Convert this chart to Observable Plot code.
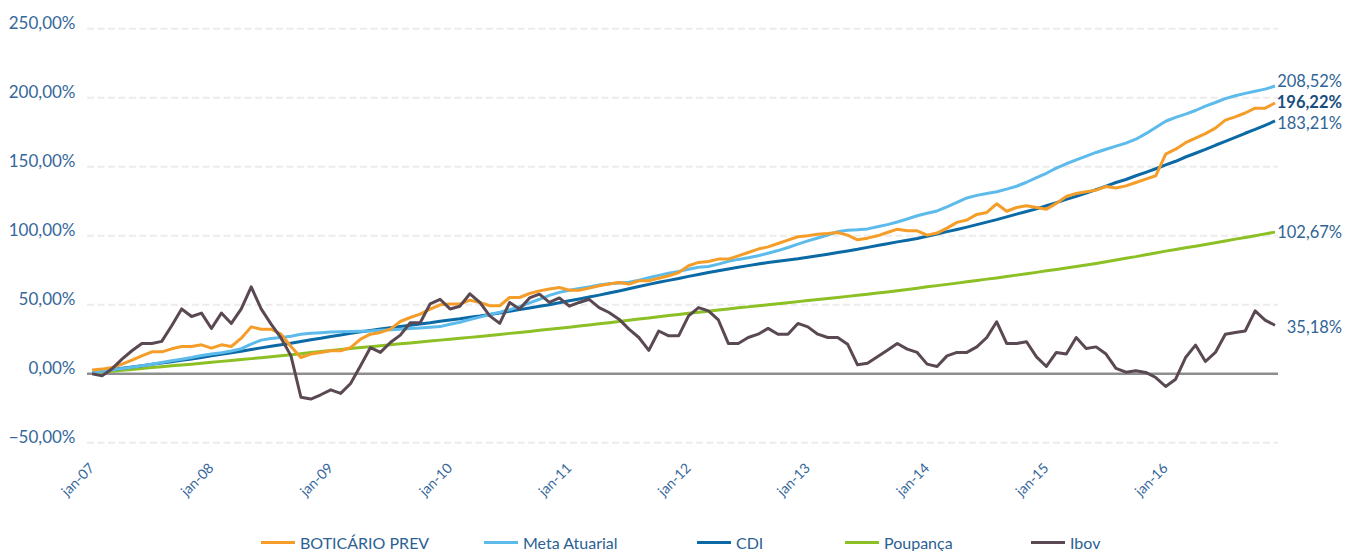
<!DOCTYPE html>
<html>
<head>
<meta charset="utf-8">
<script src="https://cdn.jsdelivr.net/npm/d3@7"></script>
<script src="https://cdn.jsdelivr.net/npm/@observablehq/plot@0.6"></script>
<style>
  body { margin: 0; background: #fff; }
  #wrap { position: relative; width: 1346px; height: 551px; font-family: Lato, "Open Sans", sans-serif; }
  #legend { position: absolute; left: 0; top: 520px; width: 1346px; height: 31px; }
  .item { position: absolute; top: 11px; height: 22px; display: flex; align-items: center; font-size: 16px; font-weight: 400; color: #2c5f92; white-space: nowrap; }
  .sw { display: inline-block; width: 34px; height: 3px; margin-right: 5px; }
</style>
</head>
<body>
<div id="wrap"><div id="chart"></div><div id="legend"></div></div>
<script>
// ---- data ----
const tickLabels = ["jan-07","jan-08","jan-09","jan-10","jan-11","jan-12","jan-13","jan-14","jan-15","jan-16"];
const yTicks = [-50, 0, 50, 100, 150, 200, 250];

const boticario = [2.7,3.4,4.6,7.0,9.9,13.0,15.9,15.9,18.1,19.8,19.8,21.0,
  18.6,21.0,19.8,25.8,34.0,32.3,32.3,28.7,19.8,11.8,14.3,15.5,
  16.7,16.7,19.0,25.1,28.7,30.0,32.4,37.9,40.8,43.2,46.9,50.0,
  50.5,50.5,53.4,51.7,49.3,49.3,55.3,55.3,58.2,60.1,61.4,62.5,
  60.6,60.6,62.1,63.8,65.0,66.2,65.0,67.4,67.4,69.3,71.0,73.4,
  78.3,80.7,81.4,83.1,83.1,85.5,87.9,90.4,92.0,94.4,96.9,99.3,
  100.0,101.2,101.7,102.4,100.5,97.1,98.3,100.0,102.4,104.8,103.6,103.6,
  100.5,102.0,105.6,109.7,111.4,115.5,116.9,123.2,117.8,120.5,121.7,120.5,
  119.3,123.5,128.5,130.7,131.9,133.1,135.7,134.6,136.2,138.6,141.1,143.5,
  159.2,162.8,167.5,170.8,174.0,178.0,183.8,186.2,189.0,192.5,192.5,196.22];

const metaAtuarial = [1.0,1.9,2.9,3.8,4.8,5.8,6.9,8.2,9.5,10.6,11.8,13.2,
  14.3,15.3,16.5,18.2,21.5,24.4,25.6,26.3,27.2,28.6,29.4,29.8,
  30.3,30.5,30.7,30.9,31.1,31.6,31.9,32.3,32.8,33.2,33.7,34.2,
  35.9,37.4,39.3,41.1,43.0,44.6,46.5,48.6,51.4,54.0,56.8,59.0,
  60.5,61.8,63.0,64.3,65.2,65.8,66.3,67.8,69.6,71.3,72.8,74.2,
  75.8,77.2,77.7,79.5,81.5,82.9,84.1,85.6,87.4,89.3,91.5,94.0,
  96.3,98.4,100.6,102.9,104.0,104.4,105.0,106.5,108.1,110.0,112.2,114.5,
  116.3,118.0,120.9,124.2,127.4,129.3,130.6,131.9,133.8,135.9,138.8,142.2,
  145.3,149.0,152.2,155.0,157.7,160.4,162.7,165.0,167.2,170.0,174.0,178.5,
  183.0,185.8,188.2,190.8,194.0,196.6,199.4,201.5,203.2,204.8,206.3,208.52];

const cdi = [1.1,2.0,3.1,4.0,5.0,5.9,6.9,7.9,8.8,9.8,10.8,11.8,
  13.0,14.1,15.3,16.4,17.6,18.8,19.9,21.1,22.2,23.4,24.6,25.7,
  27.0,28.1,29.3,30.4,31.4,32.4,33.4,34.3,35.2,36.1,37.0,38.1,
  39.0,39.9,41.0,41.9,43.0,44.1,45.3,46.5,47.7,48.9,50.1,51.5,
  52.9,54.2,55.6,57.0,58.5,60.0,61.6,63.3,64.8,66.3,67.7,69.1,
  70.6,72.0,73.4,74.7,76.0,77.2,78.4,79.6,80.6,81.6,82.5,83.3,
  84.5,85.6,86.7,87.9,89.0,90.2,91.6,92.9,94.2,95.6,96.8,98.1,
  99.7,101.3,103.0,104.6,106.3,108.1,109.9,111.7,113.7,115.7,117.6,119.5,
  121.8,124.0,126.4,128.6,130.9,133.5,136.0,138.6,140.8,143.5,146.0,148.6,
  151.4,154.0,157.1,159.8,162.6,165.6,168.4,171.3,174.3,177.1,180.1,183.21];

const poupanca = [0.7,1.3,1.9,2.6,3.2,3.8,4.5,5.1,5.8,6.4,7.0,7.7,
  8.3,9.0,9.7,10.4,11.0,11.7,12.4,13.1,13.8,14.6,15.4,16.2,
  16.9,17.6,18.3,19.0,19.6,20.3,21.0,21.7,22.3,23.0,23.7,24.4,
  25.1,25.7,26.4,27.1,27.8,28.5,29.3,30.0,30.7,31.5,32.2,33.0,
  33.8,34.6,35.4,36.2,37.0,37.9,38.8,39.7,40.5,41.4,42.2,43.0,
  43.8,44.6,45.4,46.2,47.0,47.8,48.5,49.3,50.0,50.8,51.5,52.3,
  53.1,53.8,54.6,55.3,56.1,56.9,57.7,58.5,59.3,60.2,61.1,62.0,
  63.0,63.9,64.8,65.7,66.7,67.6,68.6,69.5,70.5,71.5,72.5,73.5,
  74.6,75.6,76.7,77.8,78.9,80.0,81.2,82.4,83.7,84.9,86.3,87.6,
  88.9,90.1,91.3,92.5,93.7,95.0,96.3,97.6,98.8,100.1,101.4,102.67];

const ibov = [0,-1.5,3.6,10.6,16.7,22,22,23.5,34.8,47,41.5,44,
  32.8,44,36.5,47,63,47,36,26,13,-17,-18.3,-15.2,
  -11.6,-14.2,-7,5.8,19,15.5,22.7,28,37,37,50.7,54,
  47,49,58,51.7,42,36.5,51.7,47,55,57.7,51.7,55,
  49,51.7,54,48,44.4,39.6,32.4,26.3,17,31,27.5,27.5,
  42,48,45.6,39,22,22,26.3,28.7,32.9,28.7,28.7,36.5,
  34,28.7,26.3,26.3,21.5,6.5,7.7,12.3,17,22,17.9,15.5,
  7,5.3,13,15.5,15.5,19.5,26.3,37.7,22,22,23.2,12.3,
  5.3,15.5,14.3,26.3,18.4,19.5,14.3,4,1.2,2.2,1,-2.7,
  -9.2,-3.9,11.8,20.8,8.9,15.5,28.7,30,31,45.6,38.9,35.18];

const seriesNames = ["BOTICÁRIO PREV", "Meta Atuarial", "CDI", "Poupança", "Ibov"];
const endLabels = ["196,22%", "208,52%", "183,21%", "102,67%", "35,18%"];

// ---- styles ----
const colors = {"BOTICÁRIO PREV": "#f59d29", "Meta Atuarial": "#5cbbea", "CDI": "#0b6aa5", "Poupança": "#8cc024", "Ibov": "#5a4853"};
const valuesByName = {"BOTICÁRIO PREV": boticario, "Meta Atuarial": metaAtuarial, "CDI": cdi, "Poupança": poupanca, "Ibov": ibov};
const labelDy = {"BOTICÁRIO PREV": 0, "Meta Atuarial": -4.5, "CDI": 2.5, "Poupança": 0.5, "Ibov": 2};
const drawOrder = ["Poupança", "CDI", "Meta Atuarial", "BOTICÁRIO PREV", "Ibov"];
const axisColor = "#36679b";

const rowsFor = name => valuesByName[name].map((v, i) => ({i, v, name}));
const fmtPct = d => d3.format(".2f")(d).replace(".", ",") + "%";

const lineMarks = drawOrder.map(name =>
  Plot.line(rowsFor(name), {x: "i", y: "v", stroke: colors[name], strokeWidth: 3, strokeLinejoin: "round", strokeLinecap: "butt"}));

const labelMarks = seriesNames.map((name, k) => {
  const vals = valuesByName[name];
  return Plot.text([{i: vals.length - 1, v: vals[vals.length - 1], t: endLabels[k]}], {
    x: "i", y: "v", text: "t", textAnchor: "end", dx: 67, dy: labelDy[name],
    fontSize: 16.5, fontWeight: name === "BOTICÁRIO PREV" ? 700 : 400,
    fill: name === "BOTICÁRIO PREV" ? "#1b4d7e" : "#2f6496"
  });
});

const chart = Plot.plot({
  width: 1346,
  height: 520,
  marginLeft: 87,
  marginRight: 68,
  marginTop: 28.3,
  marginBottom: 77.7,
  style: {fontFamily: "Lato, 'Open Sans', sans-serif", background: "#fff", overflow: "visible"},
  x: {type: "linear", domain: [-0.47, 119.35]},
  y: {domain: [-50, 250]},
  marks: [
    Plot.gridY(yTicks.filter(d => d !== 0), {stroke: "#ececec", strokeOpacity: 1, strokeWidth: 2, strokeDasharray: "7,3.5"}),
    Plot.ruleY([0], {stroke: "#8e8e8e", strokeWidth: 2.5}),
    Plot.axisY(yTicks, {tickSize: 0, tickPadding: 12, tickFormat: fmtPct, fontSize: 17, fontWeight: 400, color: axisColor, dy: -5, label: null}),
    Plot.axisX(tickLabels.map((d, k) => k * 12), {tickSize: 0, tickPadding: 23, tickRotate: -45, tickFormat: d => tickLabels[d / 12], fontSize: 14, fontWeight: 400, color: axisColor, label: null}),
    ...lineMarks,
    ...labelMarks
  ]
});
document.getElementById("chart").appendChild(chart);

// ---- legend ----
const legendLeft = {"BOTICÁRIO PREV": 261, "Meta Atuarial": 484, "CDI": 697, "Poupança": 845, "Ibov": 1031};
const legend = document.getElementById("legend");
seriesNames.forEach(name => {
  const it = document.createElement("div");
  it.className = "item";
  it.style.left = legendLeft[name] + "px";
  const sw = document.createElement("span");
  sw.className = "sw";
  sw.style.background = colors[name];
  it.appendChild(sw);
  it.appendChild(document.createTextNode(name));
  legend.appendChild(it);
});
</script>
</body>
</html>
